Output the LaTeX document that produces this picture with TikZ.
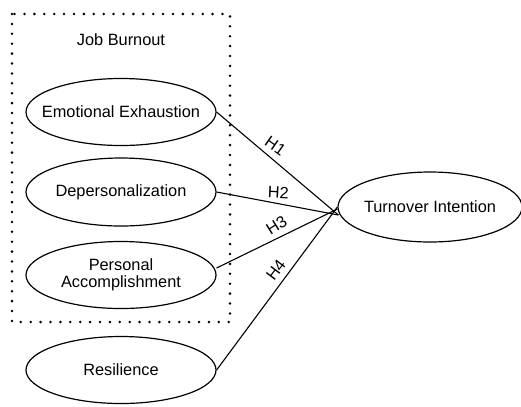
\documentclass[tikz,border=0pt]{standalone}
\usepackage{fontspec}
\setmainfont{Liberation Sans}
\usetikzlibrary{shapes.geometric,calc}
\begin{document}
\begin{tikzpicture}[x=1bp,y=-1bp,
  construct/.style={draw, ellipse, line width=1.2bp, inner sep=0pt, font=\fontsize{16.4}{19}\selectfont, align=center},
  path/.style={line width=1.1bp},
  hlabel/.style={font=\fontsize{16.4}{18}\selectfont, inner sep=0pt},
  dotbox/.style={line width=2.8bp, line cap=round, dash pattern=on 0pt off 9.9bp}]
\useasboundingbox (0,0) rectangle (521,406);
\draw[dotbox] (12,14) rectangle (230,322);
\node[font=\fontsize{16.4}{18}\selectfont] (jb) at (121,40) {Job Burnout};
\node[construct, minimum width=190bp, minimum height=67bp] (ee) at (121,112) {\makebox[0pt]{Emotional Exhaustion}};
\node[construct, minimum width=190bp, minimum height=68bp] (dp) at (121,192) {\makebox[0pt]{Depersonalization}};
\node[construct, minimum width=190bp, minimum height=67bp] (pa) at (121,275) {\makebox[0pt]{Personal}\\[-2bp]\makebox[0pt]{Accomplishment}};
\node[construct, minimum width=190bp, minimum height=67bp] (rs) at (121,370) {\makebox[0pt]{Resilience}};
\node[construct, minimum width=184bp, minimum height=70bp] (ti) at (430,207) {\makebox[0pt]{Turnover Intention}};
\coordinate (c1) at ([xshift=1bp,yshift=-8bp]ti.west);
\coordinate (c3) at ([xshift=0bp,yshift=-2bp]ti.west);
\coordinate (s3) at ([yshift=7bp]pa.east);
\draw[path] (ee.east) -- (c1);
\draw[path] (dp.east) -- (c1);
\draw[path] (s3) -- (c3);
\draw[path] (rs.east) -- (ti.west);
\node[hlabel, rotate=-35] (h1) at ($($(ee.east)!0.42!(c1)$)!12bp!90:(c1)$) {H1};
\node[hlabel, rotate=-3] (h2) at ($($(dp.east)!0.49!(c1)$)!11bp!90:(c1)$) {H2};
\node[hlabel, rotate=32] (h3) at ($($(s3)!0.54!(c3)$)!12bp!90:(c3)$) {H3};
\node[hlabel, rotate=53] (h4) at ($($(rs.east)!0.57!(ti.west)$)!12bp!90:(ti.west)$) {H4};
\end{tikzpicture}
\end{document}
